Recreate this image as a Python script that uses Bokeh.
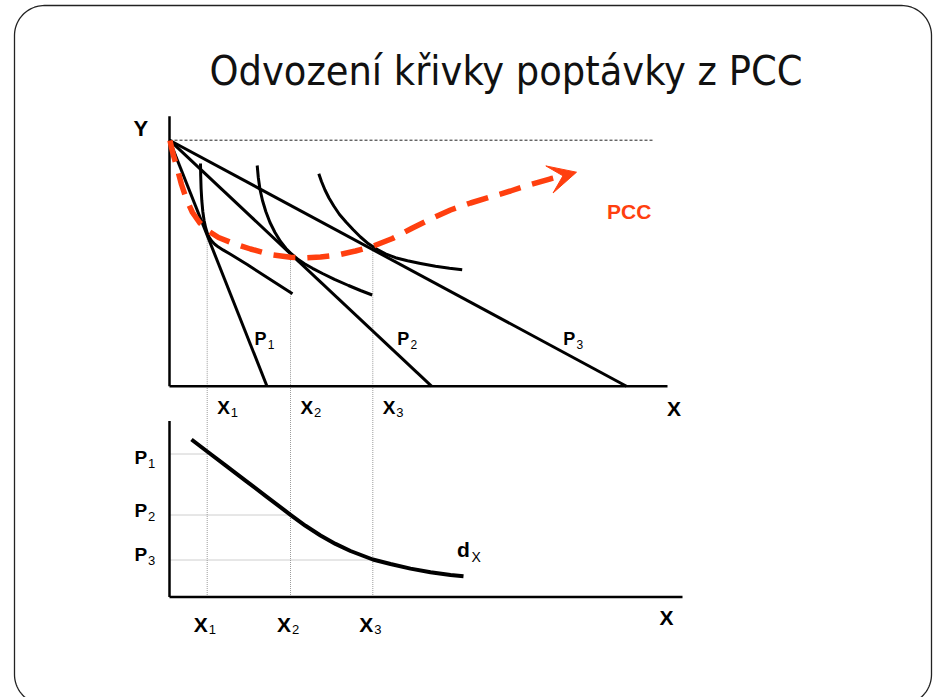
import numpy as np
from bokeh.plotting import figure
from bokeh.models import Range1d, Arrow, VeeHead
from bokeh.core.properties import value
from bokeh.embed import file_html
from bokeh.resources import INLINE

# ---------------- data ----------------
title_text = "Odvození křivky poptávky z PCC"
price_labels = ["P", "P", "P"]
price_subs = ["1", "2", "3"]
qty_subs = ["1", "2", "3"]

# upper diagram (X on horizontal axis, Y on vertical axis)
y_intercept = 24.6                    # M / Py (common to all budget lines)
x_intercepts = [9.75, 26.2, 45.7]     # M / Px at prices P1, P2, P3

opt_x = [3.77, 12.1, 20.33]           # X1, X2, X3
opt_y = [15.3, 13.2, 13.9]

ic1_x = [3.1, 3.12, 3.16, 3.23, 3.33, 3.46, 3.61, 3.77, 3.97, 4.22, 4.53, 4.9, 5.35,
         6.1, 7.77, 9.77, 12.3]
ic1_y = [22.27, 21.07, 19.77, 18.57, 17.47, 16.57, 15.87, 15.32, 14.89, 14.52, 14.2,
         13.91, 13.63, 13.19, 12.17, 10.87, 9.24]

ic2_x = [8.77, 8.88, 9.05, 9.3, 9.63, 10.05, 10.55, 11.1, 11.65, 12.2, 12.8, 13.5,
         14.3, 15.3, 16.5, 17.9, 19.1, 20.27]
ic2_y = [22.07, 20.87, 19.67, 18.57, 17.47, 16.37, 15.37, 14.47, 13.77, 13.22, 12.72,
         12.25, 11.79, 11.27, 10.69, 10.07, 9.57, 9.12]

ic3_x = [14.93, 15.2, 15.55, 15.95, 16.43, 17.0, 17.65, 18.35, 19.1, 19.9, 20.7, 21.6,
         22.6, 23.8, 25.1, 26.6, 28.0, 29.27]
ic3_y = [21.24, 20.47, 19.62, 18.82, 18.02, 17.17, 16.42, 15.67, 14.92, 14.24, 13.72,
         13.23, 12.85, 12.54, 12.27, 11.99, 11.79, 11.64]

pcc_x = [0.05, 0.2, 0.4, 0.8, 1.2, 1.7, 2.3, 3.0, 3.8, 4.9, 6.4, 8.1, 10.1, 12.1,
         13.6, 15.1, 16.8, 18.6, 20.4, 22.3, 24.3, 26.2, 28.1, 30.1, 32.1, 34.1,
         36.1, 38.1, 39.2]
pcc_y = [24.57, 23.87, 23.07, 21.67, 20.17, 18.67, 17.37, 16.37, 15.57, 14.87,
         14.27, 13.72, 13.17, 12.9, 12.84, 12.92, 13.12, 13.52, 14.02, 14.77,
         15.82, 16.77, 17.62, 18.32, 18.92, 19.52, 20.17, 20.74, 21.0]
pcc_tip_x = 40.7
pcc_tip_y = 21.4

# lower diagram (X on horizontal axis, price of X on vertical axis)
prices = [14.3, 8.2, 3.7]
demand_x = [2.2, 3.77, 5.6, 7.6, 9.6, 12.1, 13.6, 15.1, 16.6, 18.1, 20.33, 22.1,
            24.1, 26.1, 28.1, 29.4]
demand_p = [15.75, 14.55, 13.16, 11.64, 10.12, 8.22, 7.12, 6.15, 5.31, 4.6, 3.75,
            3.3, 2.84, 2.47, 2.2, 2.08]

# ---------------- layout (page pixels) ----------------
W, H = 936, 697
PX = 10.0                      # pixels per unit on all data axes
ORIGIN_PX = 169                # page x of the vertical axes
TOP_ORIGIN_PY = 385.7          # page y of the upper X axis
BOT_ORIGIN_PY = 596.5          # page y of the lower X axis
GAP = (BOT_ORIGIN_PY - TOP_ORIGIN_PY) / PX

BLACK = "#000000"
ORANGE = "#FF3F0F"
DOT = "#9c9c9c"
FONT = value("Liberation Sans")

x0 = -ORIGIN_PX / PX
top_from_bottom = H - TOP_ORIGIN_PY
bot_from_bottom = H - BOT_ORIGIN_PY

p = figure(width=W, height=H, output_backend="svg", toolbar_location=None,
           x_range=Range1d(x0, x0 + W / PX),
           y_range=Range1d(-top_from_bottom / PX, (H - top_from_bottom) / PX),
           min_border=0, outline_line_color=None)
p.extra_y_ranges = {
    "bottom": Range1d(-bot_from_bottom / PX, (H - bot_from_bottom) / PX),
    "page": Range1d(H, 0),
}
p.extra_x_ranges = {"page": Range1d(0, W)}
p.axis.visible = False
p.grid.visible = False
p.background_fill_color = "white"
p.border_fill_color = "white"

# ---- slide frame (rounded rectangle) ----
def rounded_rect(l, t, r, b, rad, n=24):
    xs, ys = [], []
    corners = [(r - rad, t + rad, -90, 0), (r - rad, b - rad, 0, 90),
               (l + rad, b - rad, 90, 180), (l + rad, t + rad, 180, 270)]
    for cx, cy, a0, a1 in corners:
        a = np.radians(np.linspace(a0, a1, n))
        xs += list(cx + rad * np.cos(a))
        ys += list(cy + rad * np.sin(a))
    xs.append(xs[0]); ys.append(ys[0])
    return xs, ys

fx, fy = rounded_rect(14, 5, 931, 704, 30)
p.line(fx, fy, x_range_name="page", y_range_name="page", line_color="#222222", line_width=1.3)

# ---- title (y = vertical centre of the text) ----
p.text(x=[505.5], y=[70], text=[title_text], x_range_name="page", y_range_name="page",
       text_font=value("DejaVu Sans Condensed"), text_font_size="41px",
       text_align="center", text_baseline="alphabetic", text_color="#111111")

# ---- upper diagram ----
# dotted guides from the optima down to the lower X axis
p.segment(x0=opt_x, y0=opt_y, x1=opt_x, y1=[0] * 3, line_color=DOT, line_width=1, line_dash="1 1")
p.segment(x0=opt_x, y0=[0] * 3, x1=opt_x, y1=[GAP] * 3, y_range_name="bottom",
          line_color=DOT, line_width=1, line_dash="1 1")

# dashed horizontal line at the Y intercept
p.line([0, 48.4], [y_intercept, y_intercept], line_color="#222222", line_width=1, line_dash="3 2")

# axes
p.line([0, 0], [0, 27.0], line_color=BLACK, line_width=2.5)
p.line([0, 49.8], [0, 0], line_color=BLACK, line_width=2.5)

# budget lines
for xi in x_intercepts:
    p.line([0, xi], [y_intercept, 0], line_color=BLACK, line_width=3)

# indifference curves
for xs, ys in [(ic1_x, ic1_y), (ic2_x, ic2_y), (ic3_x, ic3_y)]:
    p.line(xs, ys, line_color=BLACK, line_width=3, line_join="round")

# PCC
p.line(pcc_x, pcc_y, line_color=ORANGE, line_width=5.5, line_dash="22 12", line_cap="butt")
p.add_layout(Arrow(end=VeeHead(size=28, fill_color=ORANGE, line_color=ORANGE, line_width=1),
                   x_start=pcc_x[-3], y_start=pcc_y[-3], x_end=pcc_tip_x, y_end=pcc_tip_y,
                   line_alpha=0))

# ---- lower diagram ----
p.segment(x0=[0] * 3, y0=prices, x1=opt_x, y1=prices, y_range_name="bottom",
          line_color=DOT, line_width=1, line_dash="1 1")
p.line([0, 0], [0, 17.6], y_range_name="bottom", line_color=BLACK, line_width=2.5)
p.line([0, 51.3], [0, 0], y_range_name="bottom", line_color=BLACK, line_width=2.5)
p.line(demand_x, demand_p, y_range_name="bottom", line_color=BLACK, line_width=4,
       line_join="round")

# ---- labels (y = vertical centre of the main glyph) ----
def label(x, y, base, sub, size, sub_size, sub_dx, sub_dy, color="#000000"):
    p.text(x=x, y=y, text=base, x_range_name="page", y_range_name="page",
           text_font=FONT, text_font_style="bold", text_font_size=f"{size}px",
           text_align="left", text_baseline="alphabetic", text_color=color)
    if sub is not None:
        p.text(x=x, y=y, text=sub, x_range_name="page", y_range_name="page",
               x_offset=sub_dx, y_offset=sub_dy,
               text_font=FONT, text_font_size=f"{sub_size}px",
               text_align="left", text_baseline="alphabetic", text_color=color)

# axis titles
label([133], [128], ["Y"], None, 22, 0, 0, 0)
label([666.5], [407.5], ["X"], None, 21, 0, 0, 0)
label([659], [616.5], ["X"], None, 21, 0, 0, 0)

# X1..X3 under the upper axis (x from data)
p.text(x=opt_x, y=[407] * 3, text=["X"] * 3, y_range_name="page", x_offset=10,
       text_font=FONT, text_font_style="bold", text_font_size="19px",
       text_align="left", text_baseline="alphabetic", text_color=BLACK)
p.text(x=opt_x, y=[407] * 3, text=qty_subs, y_range_name="page", x_offset=23.5, y_offset=5,
       text_font=FONT, text_font_size="13px",
       text_align="left", text_baseline="alphabetic", text_color=BLACK)
# X1..X3 under the lower axis
p.text(x=opt_x, y=[624] * 3, text=["X"] * 3, y_range_name="page", x_offset=-13.5,
       text_font=FONT, text_font_style="bold", text_font_size="21px",
       text_align="left", text_baseline="alphabetic", text_color=BLACK)
p.text(x=opt_x, y=[624] * 3, text=qty_subs, y_range_name="page", x_offset=1.5, y_offset=5,
       text_font=FONT, text_font_size="13px",
       text_align="left", text_baseline="alphabetic", text_color=BLACK)

# P1..P3 along the budget lines
label([254, 396.7, 562.7], [338.5] * 3, price_labels, price_subs, 18, 12, 13.2, 5.5)
# P1..P3 on the price axis
label([134, 134, 134], [457, 510, 554], price_labels, price_subs, 19, 13, 13.5, 6)

# demand label d_X
label([456.5], [549], ["d"], ["X"], 21, 14, 14.5, 7.5)

# PCC label
label([606.5], [210.8], ["PCC"], None, 21, 0, 0, 0, color=ORANGE)

open("out.html", "w").write(file_html(p, INLINE))
